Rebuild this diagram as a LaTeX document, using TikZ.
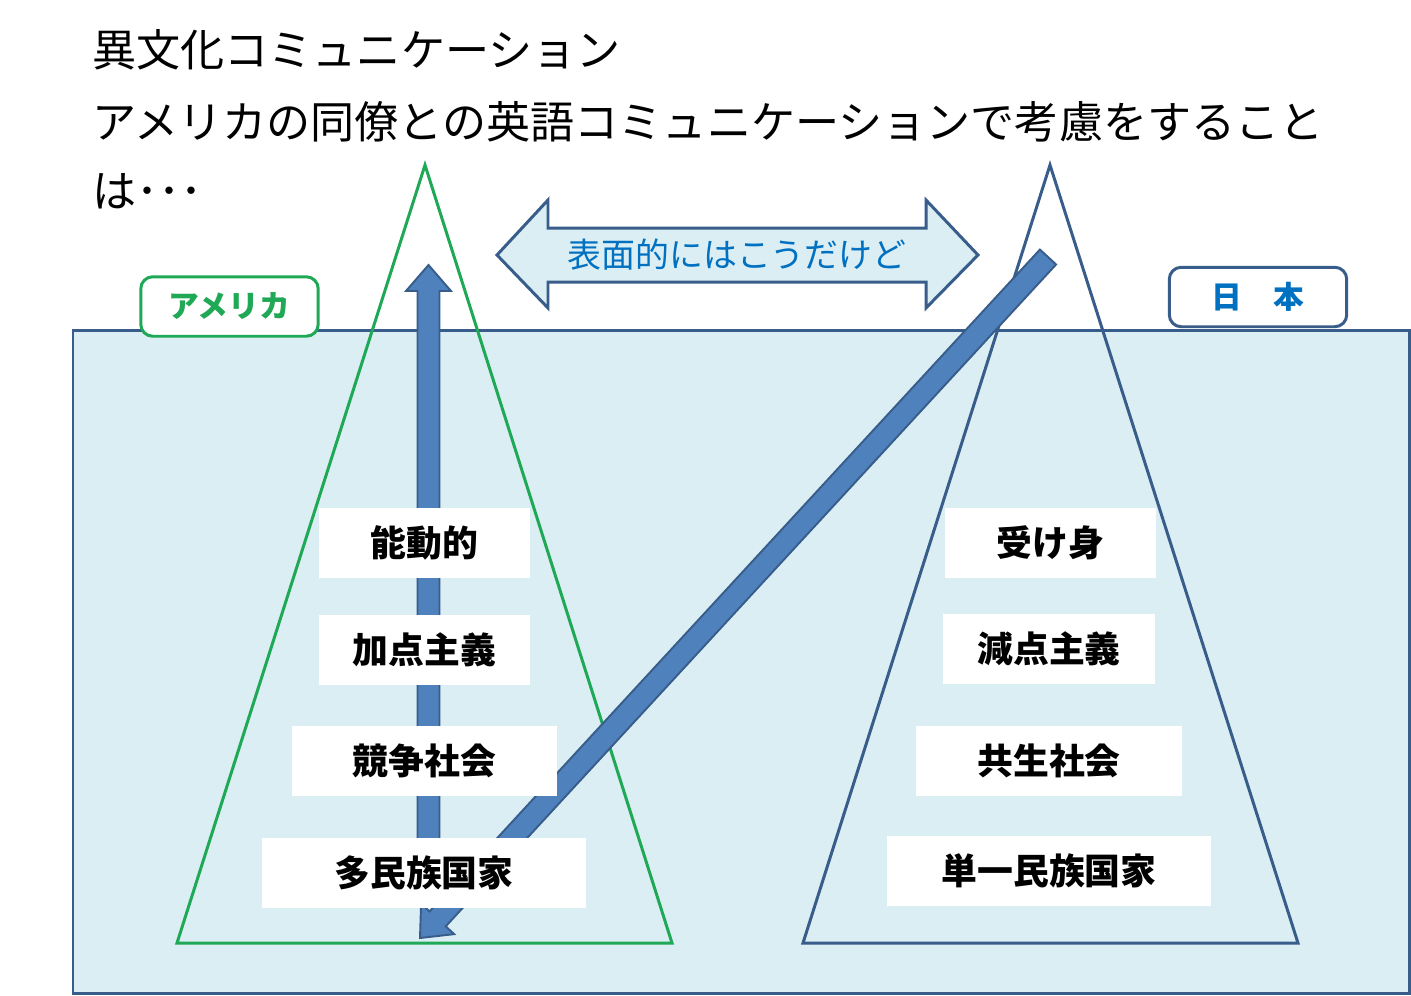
\documentclass[tikz,border=0pt]{standalone}
\usepackage{fontspec}
\setmainfont{Noto Sans CJK JP}
\usetikzlibrary{calc}
\definecolor{seablue}{HTML}{DBEEF4}
\definecolor{edgeblue}{HTML}{385D8A}
\definecolor{arrowblue}{HTML}{4F81BD}
\definecolor{usgreen}{HTML}{1FA855}
\definecolor{textblue}{HTML}{0070C0}

\tikzset{
  wordbox/.style={fill=white, inner sep=0pt, minimum height=1.4cm,
    font=\bfseries\fontsize{20.4}{24}\selectfont},
  tag/.style={draw, line width=1.7pt, fill=white, rounded corners=0.24cm,
    minimum width=3.55cm, minimum height=1.19cm, inner sep=0pt,
    font=\bfseries\fontsize{17.5}{20}\selectfont},
  fatarrow/.style={draw=edgeblue, fill=arrowblue, line width=1.1pt, line join=miter},
  tri/.style={line width=1.7pt, line join=miter},
  headline/.style={anchor=base west, inner sep=0pt, font=\fontsize{25.1}{30}\selectfont}
}

% block arrow from #1 (foot) to #2 (tip)
\newcommand{\blockarrow}[2]{%
  \coordinate (ba-neck) at ($(#2)!0.52cm!(#1)$);
  \draw[fatarrow] ($(#1)!0.22cm!90:(#2)$) -- ($(ba-neck)!0.22cm!-90:(#1)$)
    -- ($(ba-neck)!0.45cm!-90:(#1)$) -- (#2) -- ($(ba-neck)!0.45cm!90:(#1)$)
    -- ($(ba-neck)!0.22cm!90:(#1)$) -- ($(#1)!0.22cm!-90:(#2)$) -- cycle;}

\begin{document}
\begin{tikzpicture}[x=0.02cm, y=-0.02cm]
\useasboundingbox (0,0) rectangle (1411,995);

% title
\node[headline] (title1) at (92,66) {異文化コミュニケーション};
\node[headline] (title2) at (92,138) {アメリカの同僚との英語コミュニケーションで考慮をすること};
\node[headline] (title3) at (92,207) {は･･･};

% sea
\draw[edgeblue, fill=seablue, line width=1.7pt] (73,330) rectangle (1409,993);

% icebergs
\draw[tri, usgreen] (425,165) -- (177,943) -- (672,943) -- cycle;
\draw[tri, edgeblue] (1050,165) -- (803,943) -- (1298,943) -- cycle;

% surface arrow
\draw[edgeblue, fill=seablue, line width=1.7pt, line join=miter]
  (497,255) -- (548,200) -- (548,228) -- (926,228) -- (926,200) -- (978,255)
  -- (926,308) -- (926,282) -- (548,282) -- (548,308) -- cycle;
\node[textblue, font=\fontsize{19.3}{22}\selectfont] (surface) at (737,255) {表面的にはこうだけど};

% deep arrows
\coordinate (upfoot) at (428.5,905);
\coordinate (uptip) at (428.5,265);
\coordinate (jpfoot) at (1048,257);
\coordinate (ustip) at (420,938);
\blockarrow{upfoot}{uptip}
\blockarrow{jpfoot}{ustip}

% America
\node[wordbox, minimum width=4.22cm] (us1) at (424.5,542.5) {能動的};
\node[wordbox, minimum width=4.22cm] (us2) at (424.5,650) {加点主義};
\node[wordbox, minimum width=5.3cm] (us3) at (424.5,761) {競争社会};
\node[wordbox, minimum width=6.48cm] (us4) at (424,873) {多民族国家};

% Japan
\node[wordbox, minimum width=4.22cm] (jp1) at (1050.5,543) {受け身};
\node[wordbox, minimum width=4.24cm] (jp2) at (1049,649) {減点主義};
\node[wordbox, minimum width=5.32cm] (jp3) at (1049,761) {共生社会};
\node[wordbox, minimum width=6.48cm] (jp4) at (1049,871) {単一民族国家};

% tags
\node[tag, draw=usgreen, text=usgreen] (ustag) at (229.5,306.5) {アメリカ};
\node[tag, draw=edgeblue, text=textblue] (jptag) at (1258,297) {日　本};
\end{tikzpicture}
\end{document}
